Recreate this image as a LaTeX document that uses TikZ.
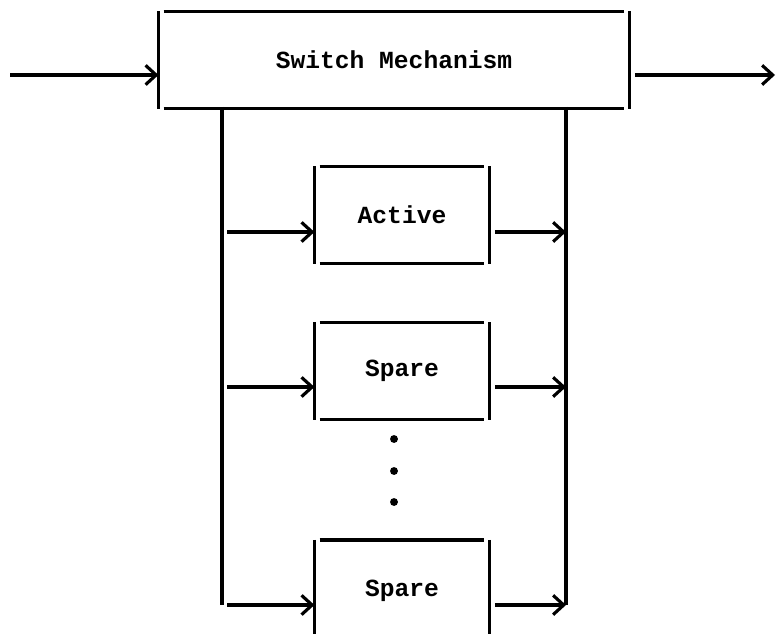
\documentclass[tikz,border=0pt]{standalone}
\usepackage{fontspec}
\setmonofont{Liberation Mono}
\usetikzlibrary{arrows.meta}
\tikzset{
  mainbox/.style={minimum width=9.36cm, minimum height=1.88cm, font=\fontsize{14}{16}\selectfont\ttfamily\bfseries},
  unitbox/.style={minimum width=3.44cm, minimum height=1.88cm, font=\fontsize{14}{16}\selectfont\ttfamily\bfseries},
  dot/.style={circle, fill, inner sep=0pt, minimum size=4.5pt},
  gap/.style={shorten <=3pt},
}
% box sides drawn apart, with a small gap at each corner
\newcommand\gapbox[1]{%
  \draw[] (#1.north west) -- (#1.south west);
  \draw[] (#1.north east) -- (#1.south east);
  \draw[] ([xshift=3pt]#1.north west) -- ([xshift=-3pt]#1.north east);
  \draw[] ([xshift=3pt]#1.south west) -- ([xshift=-3pt]#1.south east);}
\begin{document}
\begin{tikzpicture}[x=0.02cm, y=-0.02cm, line width=1.8pt, >={Straight Barb[length=6pt,width=11pt]}]
\useasboundingbox (0,0) rectangle (776,634);
\clip (0,0) rectangle (776,634);
% switch
\node[mainbox] (sw) at (394,60){Switch Mechanism};
\gapbox{sw}
\coordinate (in) at (10,75);
\coordinate (out) at (775,75);
\draw[->] (in) -- (in -| sw.west);
\draw[->, gap] (out -| sw.east) -- (out);
% buses
\coordinate (ltop) at (222,107);
\coordinate (lbot) at (222,605);
\coordinate (rtop) at (566,107);
\coordinate (rbot) at (566,605);
\draw[](ltop) -- (lbot);
\draw[](rtop) -- (rbot);
% units
\node[unitbox] (act) at (402,215){Active};
\node[unitbox] (sp1) at (402,371){Spare};
\node[unitbox, minimum height=1.98cm] (sp2) at (402,591){Spare};
\gapbox{act}
\gapbox{sp1}
\gapbox{sp2}
\coordinate (l1) at (222,232);
\coordinate (l2) at (222,387);
\draw[->, gap] (l1) -- (l1 -| act.west);
\draw[->, gap] (act.east |- l1) -- (l1 -| rtop);
\draw[->, gap] (l2) -- (l2 -| sp1.west);
\draw[->, gap] (sp1.east |- l2) -- (l2 -| rtop);
\draw[->, gap] (lbot) -- (lbot -| sp2.west);
\draw[->, gap] (sp2.east |- lbot) -- (rbot);
% dots
\node[dot] (d1) at (394,439){};
\node[dot] (d2) at (394,471){};
\node[dot] (d3) at (394,502){};
\end{tikzpicture}
\end{document}
